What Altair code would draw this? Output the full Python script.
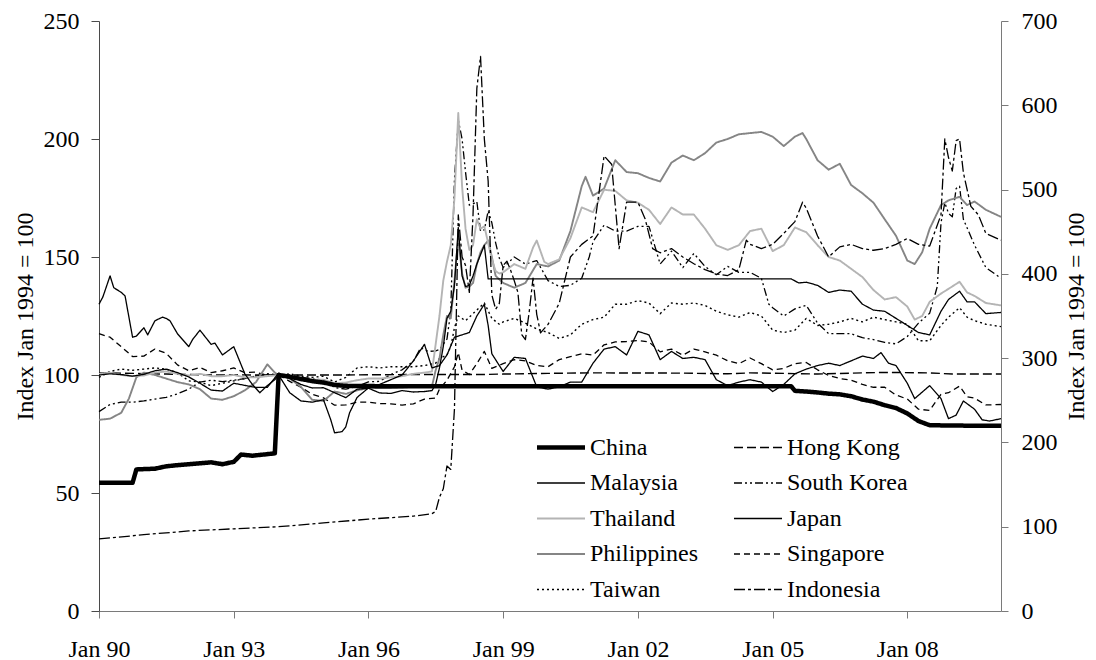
import altair as alt
import pandas as pd

FONT = "'Liberation Serif', 'Times New Roman', Times, 'DejaVu Serif', serif"

# legend / series order (the 2-column legend fills column by column)
SERIES = ["China", "Malaysia", "Thailand", "Philippines", "Taiwan",
          "Hong Kong", "South Korea", "Japan", "Singapore", "Indonesia"]
COLORS = ["#000000", "#000000", "#b4b4b4", "#858585", "#000000",
          "#000000", "#000000", "#000000", "#000000", "#000000"]
DASHES = [[1, 0], [1, 0], [1, 0], [1, 0], [2, 3],
          [9, 4], [8, 3, 2, 3, 2, 3], [1, 0], [6, 4], [11, 3, 3, 3]]
WIDTHS = [4.5, 1.3, 1.9, 1.9, 1.4, 1.4, 1.3, 1.3, 1.3, 1.3]

X_TICKS = [1990, 1993, 1996, 1999, 2002, 2005, 2008]
Y_LEFT_TICKS = [0, 50, 100, 150, 200, 250]
Y_RIGHT_TICKS = [0, 100, 200, 300, 400, 500, 600, 700]

CHINA = [("1990-01", 54.3), ("1990-10", 54.3), ("1990-11", 60.0), ("1991-04", 60.3), ("1991-07", 61.3),
         ("1991-10", 61.8), ("1992-01", 62.2), ("1992-04", 62.6), ("1992-07", 63.0), ("1992-10", 62.2),
         ("1993-01", 63.2), ("1993-03", 66.3), ("1993-06", 65.8), ("1993-09", 66.3), ("1993-12", 66.8),
         ("1994-01", 100.0), ("1994-04", 99.3), ("1994-07", 98.3), ("1994-10", 97.4), ("1995-01", 96.8),
         ("1995-04", 95.8), ("1995-07", 95.4), ("1996-01", 95.3), ("1997-01", 95.2), ("2000-01", 95.2),
         ("2005-06", 95.2), ("2005-07", 93.3), ("2005-10", 93.0), ("2006-01", 92.6), ("2006-04", 92.1),
         ("2006-07", 91.8), ("2006-10", 91.0), ("2007-01", 89.6), ("2007-04", 88.7), ("2007-07", 87.2),
         ("2007-10", 86.0), ("2008-01", 83.7), ("2008-04", 80.5), ("2008-07", 78.7), ("2009-01", 78.6),
         ("2009-07", 78.5), ("2010-02", 78.5)]

HONG_KONG = [("1990-01", 100.9), ("1990-07", 100.8), ("1991-01", 100.6), ("1991-07", 100.4), ("1992-01", 100.2),
             ("1992-07", 100.0), ("1993-01", 100.1), ("1993-07", 100.0), ("1994-01", 100.0), ("1995-07", 100.0),
             ("1996-01", 100.1), ("1997-01", 100.2), ("1998-07", 100.2), ("1999-01", 100.4), ("2000-01", 100.7),
             ("2001-01", 100.9), ("2003-01", 100.8), ("2004-01", 100.5), ("2004-07", 100.9), ("2005-07", 100.6),
             ("2006-01", 100.4), ("2007-01", 100.9), ("2007-07", 101.1), ("2008-07", 100.9), ("2009-01", 100.4),
             ("2010-02", 100.4)]

MALAYSIA = [("1990-01", 100.0), ("1990-04", 100.5), ("1990-07", 100.2), ("1990-10", 99.5), ("1991-01", 100.3),
            ("1991-04", 101.8), ("1991-07", 102.5), ("1991-10", 101.0), ("1992-01", 99.2), ("1992-04", 96.5),
            ("1992-07", 93.6), ("1992-10", 93.2), ("1993-01", 96.5), ("1993-04", 95.6), ("1993-07", 94.7),
            ("1993-10", 94.8), ("1994-01", 100.8), ("1994-04", 98.5), ("1994-07", 96.0), ("1994-10", 94.5),
            ("1995-01", 94.6), ("1995-04", 92.5), ("1995-07", 90.4), ("1995-10", 94.0), ("1996-01", 94.4),
            ("1996-04", 92.4), ("1996-07", 92.2), ("1996-10", 93.4), ("1997-01", 92.8), ("1997-04", 93.0),
            ("1997-06", 93.4), ("1997-07", 96.0), ("1997-08", 103.0), ("1997-09", 112.0), ("1997-10", 124.0),
            ("1997-11", 127.0), ("1997-12", 138.0), ("1998-01", 162.5), ("1998-02", 142.0), ("1998-03", 137.5),
            ("1998-04", 138.0), ("1998-05", 142.0), ("1998-06", 147.0), ("1998-07", 151.0), ("1998-08", 155.0),
            ("1998-09", 140.7), ("2005-06", 140.7), ("2005-08", 139.0), ("2005-10", 139.3), ("2006-01", 138.0),
            ("2006-04", 135.0), ("2006-07", 136.0), ("2006-10", 135.5), ("2007-01", 130.0), ("2007-04", 127.5),
            ("2007-07", 127.0), ("2007-10", 124.0), ("2008-01", 121.0), ("2008-04", 118.0), ("2008-07", 117.0),
            ("2008-10", 127.0), ("2008-12", 132.0), ("2009-03", 135.5), ("2009-05", 131.0), ("2009-07", 131.0),
            ("2009-10", 126.0), ("2010-02", 126.5)]

SOUTH_KOREA = [("1990-01", 84.5), ("1990-04", 87.5), ("1990-07", 88.5), ("1990-10", 88.5), ("1991-01", 89.0),
               ("1991-04", 89.8), ("1991-07", 90.5), ("1991-10", 92.0), ("1992-01", 94.0), ("1992-04", 97.0),
               ("1992-07", 97.8), ("1992-10", 97.2), ("1993-01", 97.8), ("1993-04", 98.5), ("1993-07", 99.6),
               ("1993-10", 100.2), ("1994-01", 100.0), ("1994-04", 99.6), ("1994-07", 99.0), ("1994-10", 98.4),
               ("1995-01", 97.8), ("1995-04", 94.7), ("1995-07", 94.0), ("1995-10", 95.2), ("1996-01", 97.1),
               ("1996-04", 97.3), ("1996-07", 100.2), ("1996-10", 102.2), ("1997-01", 105.8), ("1997-03", 111.5),
               ("1997-05", 110.0), ("1997-07", 110.2), ("1997-08", 110.8), ("1997-09", 113.0), ("1997-10", 115.2),
               ("1997-11", 127.0), ("1997-12", 183.0), ("1998-01", 208.0), ("1998-02", 200.0), ("1998-03", 186.0),
               ("1998-04", 172.0), ("1998-05", 172.5), ("1998-06", 173.5), ("1998-07", 161.0), ("1998-08", 161.5),
               ("1998-09", 169.5), ("1998-10", 164.5), ("1998-11", 156.0), ("1998-12", 149.5), ("1999-01", 145.5),
               ("1999-04", 150.0), ("1999-07", 147.0), ("1999-10", 148.5), ("2000-01", 140.0), ("2000-04", 137.5),
               ("2000-07", 138.0), ("2000-10", 141.0), ("2000-12", 150.0), ("2001-01", 156.5), ("2001-04", 163.5),
               ("2001-07", 161.0), ("2001-10", 161.0), ("2002-01", 163.0), ("2002-04", 163.0), ("2002-07", 147.0),
               ("2002-10", 152.5), ("2003-01", 145.5), ("2003-04", 151.5), ("2003-07", 146.0), ("2003-10", 142.5),
               ("2004-01", 146.0), ("2004-04", 143.5), ("2004-07", 143.5), ("2004-10", 141.0), ("2004-12", 130.0),
               ("2005-01", 128.5), ("2005-04", 125.0), ("2005-07", 128.0), ("2005-10", 129.5), ("2006-01", 122.0),
               ("2006-04", 117.5), ("2006-07", 117.5), ("2006-10", 117.5), ("2007-01", 115.8), ("2007-04", 115.0),
               ("2007-07", 113.8), ("2007-10", 113.2), ("2008-01", 116.3), ("2008-04", 122.0), ("2008-07", 126.2),
               ("2008-09", 137.5), ("2008-10", 164.5), ("2008-11", 173.0), ("2008-12", 168.5), ("2009-01", 167.0),
               ("2009-02", 179.0), ("2009-03", 180.0), ("2009-04", 166.0), ("2009-07", 155.0), ("2009-10", 145.5),
               ("2010-02", 141.0)]

THAILAND = [("1990-01", 100.5), ("1990-04", 101.0), ("1990-07", 100.0), ("1990-10", 99.5), ("1991-01", 99.8),
            ("1991-04", 101.0), ("1991-07", 101.5), ("1991-10", 100.5), ("1992-01", 99.8), ("1992-04", 100.5),
            ("1992-07", 99.5), ("1992-10", 99.5), ("1993-01", 100.0), ("1993-04", 99.0), ("1993-07", 99.0),
            ("1993-10", 99.5), ("1994-01", 100.0), ("1994-04", 98.8), ("1994-07", 98.0), ("1994-10", 98.0),
            ("1995-01", 98.0), ("1995-04", 96.5), ("1995-07", 96.8), ("1995-10", 97.8), ("1996-01", 98.5),
            ("1996-04", 98.5), ("1996-07", 99.0), ("1996-10", 99.5), ("1997-01", 100.5), ("1997-04", 101.0),
            ("1997-06", 101.5), ("1997-07", 113.0), ("1997-08", 125.0), ("1997-09", 140.0), ("1997-10", 148.0),
            ("1997-11", 155.0), ("1997-12", 175.0), ("1998-01", 211.0), ("1998-02", 180.0), ("1998-03", 162.0),
            ("1998-04", 153.0), ("1998-05", 155.0), ("1998-06", 166.0), ("1998-07", 162.0), ("1998-08", 163.0),
            ("1998-09", 156.0), ("1998-10", 149.0), ("1998-11", 144.0), ("1998-12", 143.0), ("1999-01", 143.5),
            ("1999-04", 147.0), ("1999-07", 145.0), ("1999-09", 154.0), ("1999-10", 157.0), ("1999-12", 148.0),
            ("2000-01", 147.0), ("2000-04", 149.0), ("2000-07", 158.0), ("2000-10", 171.0), ("2001-01", 169.0),
            ("2001-04", 178.5), ("2001-07", 178.0), ("2001-10", 174.0), ("2002-01", 173.0), ("2002-04", 170.0),
            ("2002-07", 164.0), ("2002-10", 171.0), ("2003-01", 168.0), ("2003-04", 168.0), ("2003-07", 162.0),
            ("2003-10", 155.0), ("2004-01", 153.0), ("2004-04", 155.0), ("2004-07", 161.0), ("2004-10", 162.0),
            ("2005-01", 152.5), ("2005-04", 155.0), ("2005-07", 162.5), ("2005-10", 160.5), ("2006-01", 155.0),
            ("2006-04", 150.0), ("2006-07", 148.5), ("2006-10", 145.0), ("2007-01", 141.5), ("2007-04", 136.0),
            ("2007-07", 132.0), ("2007-10", 133.0), ("2008-01", 129.0), ("2008-03", 123.5), ("2008-05", 125.0),
            ("2008-07", 131.0), ("2008-10", 134.5), ("2008-12", 136.5), ("2009-03", 139.5), ("2009-05", 135.0),
            ("2009-07", 133.5), ("2009-10", 130.5), ("2010-02", 129.5)]

JAPAN = [("1990-01", 130.0), ("1990-02", 133.0), ("1990-04", 142.0), ("1990-05", 137.0), ("1990-07", 135.0),
         ("1990-08", 133.5), ("1990-10", 116.0), ("1990-11", 116.5), ("1991-01", 120.0), ("1991-02", 117.0),
         ("1991-04", 123.0), ("1991-06", 124.5), ("1991-07", 124.0), ("1991-08", 123.0), ("1991-10", 117.5),
         ("1992-01", 112.0), ("1992-02", 115.0), ("1992-04", 119.0), ("1992-05", 117.0), ("1992-07", 113.0),
         ("1992-08", 113.5), ("1992-10", 108.5), ("1993-01", 112.0), ("1993-04", 100.5), ("1993-06", 96.0),
         ("1993-08", 92.5), ("1993-10", 95.5), ("1993-12", 98.0), ("1994-01", 100.0), ("1994-04", 92.5),
         ("1994-07", 89.0), ("1994-10", 88.5), ("1995-01", 89.5), ("1995-03", 81.0), ("1995-04", 75.5),
         ("1995-06", 76.0), ("1995-07", 78.0), ("1995-08", 84.0), ("1995-10", 90.5), ("1996-01", 94.5),
         ("1996-04", 96.0), ("1996-07", 98.0), ("1996-10", 100.0), ("1997-01", 106.0), ("1997-04", 113.0),
         ("1997-06", 103.0), ("1997-08", 104.0), ("1997-10", 108.5), ("1997-12", 116.0), ("1998-01", 116.5),
         ("1998-04", 118.0), ("1998-06", 125.0), ("1998-08", 130.0), ("1998-09", 121.0), ("1998-10", 109.0),
         ("1998-12", 104.0), ("1999-01", 101.5), ("1999-04", 107.5), ("1999-07", 107.0), ("1999-10", 95.0),
         ("2000-01", 94.0), ("2000-04", 95.0), ("2000-07", 97.0), ("2000-10", 97.0), ("2001-01", 105.0),
         ("2001-04", 111.0), ("2001-07", 112.0), ("2001-10", 108.5), ("2002-01", 118.5), ("2002-04", 117.0),
         ("2002-07", 106.5), ("2002-10", 110.0), ("2003-01", 107.0), ("2003-04", 107.5), ("2003-07", 106.5),
         ("2003-10", 98.0), ("2004-01", 95.5), ("2004-04", 97.0), ("2004-07", 98.0), ("2004-10", 97.0),
         ("2005-01", 93.0), ("2005-04", 96.0), ("2005-07", 100.5), ("2005-10", 102.5), ("2006-01", 104.0),
         ("2006-04", 105.0), ("2006-07", 104.0), ("2006-10", 106.0), ("2007-01", 108.0), ("2007-04", 107.0),
         ("2007-06", 109.5), ("2007-08", 105.0), ("2007-10", 104.0), ("2008-01", 96.5), ("2008-03", 90.0),
         ("2008-07", 95.5), ("2008-10", 90.0), ("2008-12", 81.5), ("2009-02", 83.0), ("2009-04", 89.0),
         ("2009-07", 85.5), ("2009-09", 81.0), ("2009-11", 80.5), ("2010-02", 81.5)]

PHILIPPINES = [("1990-01", 81.0), ("1990-04", 81.5), ("1990-07", 84.0), ("1990-09", 90.0), ("1990-11", 99.0),
               ("1991-01", 101.0), ("1991-04", 100.0), ("1991-07", 98.5), ("1991-10", 97.0), ("1992-01", 96.0),
               ("1992-04", 94.0), ("1992-07", 90.0), ("1992-10", 89.5), ("1993-01", 91.0), ("1993-04", 93.5),
               ("1993-07", 97.0), ("1993-10", 104.5), ("1993-12", 101.0), ("1994-01", 100.0), ("1994-04", 98.5),
               ("1994-07", 95.0), ("1994-10", 89.5), ("1995-01", 89.0), ("1995-04", 93.0), ("1995-07", 92.0),
               ("1995-10", 93.5), ("1996-01", 94.5), ("1996-07", 94.5), ("1996-10", 94.7), ("1997-01", 95.0),
               ("1997-06", 95.2), ("1997-07", 102.0), ("1997-08", 107.0), ("1997-09", 117.0), ("1997-10", 125.0),
               ("1997-11", 124.0), ("1997-12", 140.0), ("1998-01", 158.0), ("1998-02", 143.0), ("1998-03", 137.0),
               ("1998-04", 137.5), ("1998-05", 139.0), ("1998-06", 147.0), ("1998-07", 152.0), ("1998-08", 155.0),
               ("1998-09", 157.0), ("1998-10", 150.0), ("1998-11", 142.0), ("1998-12", 140.5), ("1999-01", 139.0),
               ("1999-04", 137.0), ("1999-07", 139.0), ("1999-10", 147.0), ("2000-01", 146.0), ("2000-04", 148.5),
               ("2000-07", 161.0), ("2000-10", 180.0), ("2000-11", 184.0), ("2001-01", 176.0), ("2001-04", 179.0),
               ("2001-07", 191.0), ("2001-10", 186.0), ("2002-01", 185.5), ("2002-04", 183.5), ("2002-07", 182.0),
               ("2002-10", 190.0), ("2003-01", 193.0), ("2003-04", 191.0), ("2003-07", 194.0), ("2003-10", 198.5),
               ("2004-01", 200.0), ("2004-04", 202.0), ("2004-07", 202.5), ("2004-10", 203.0), ("2005-01", 201.0),
               ("2005-04", 197.0), ("2005-07", 201.0), ("2005-09", 202.5), ("2005-10", 200.0), ("2006-01", 191.0),
               ("2006-04", 187.0), ("2006-07", 189.5), ("2006-10", 180.5), ("2007-01", 177.0), ("2007-04", 173.0),
               ("2007-07", 166.0), ("2007-10", 159.0), ("2008-01", 148.5), ("2008-03", 147.0), ("2008-05", 152.0),
               ("2008-07", 162.0), ("2008-10", 172.0), ("2008-12", 174.0), ("2009-03", 175.5), ("2009-05", 172.0),
               ("2009-07", 173.5), ("2009-10", 170.0), ("2010-02", 167.0)]

SINGAPORE = [("1990-01", 117.5), ("1990-04", 116.0), ("1990-07", 112.0), ("1990-10", 107.8), ("1991-01", 108.0),
             ("1991-04", 111.0), ("1991-07", 109.2), ("1991-10", 104.3), ("1992-01", 101.8), ("1992-04", 103.2),
             ("1992-07", 101.0), ("1992-10", 101.8), ("1993-01", 103.0), ("1993-04", 101.0), ("1993-07", 101.2),
             ("1993-10", 99.8), ("1994-01", 100.0), ("1994-04", 97.3), ("1994-07", 94.8), ("1994-10", 91.8),
             ("1995-01", 90.3), ("1995-04", 87.2), ("1995-07", 87.3), ("1995-10", 88.5), ("1996-01", 88.5),
             ("1996-04", 87.9), ("1996-07", 87.8), ("1996-10", 87.2), ("1997-01", 87.8), ("1997-04", 89.8),
             ("1997-07", 90.2), ("1997-08", 94.0), ("1997-10", 97.8), ("1997-12", 103.5), ("1998-01", 109.5),
             ("1998-02", 102.0), ("1998-04", 100.2), ("1998-06", 104.8), ("1998-08", 110.0), ("1998-10", 102.8),
             ("1999-01", 104.8), ("1999-04", 106.5), ("1999-07", 106.0), ("1999-10", 104.0), ("2000-01", 103.5),
             ("2000-04", 106.5), ("2000-07", 107.8), ("2000-10", 109.0), ("2001-01", 108.4), ("2001-04", 112.8),
             ("2001-07", 114.0), ("2001-10", 114.2), ("2002-01", 114.6), ("2002-04", 114.0), ("2002-07", 109.8),
             ("2002-10", 111.0), ("2003-01", 108.4), ("2003-04", 111.0), ("2003-07", 109.8), ("2003-10", 108.4),
             ("2004-01", 106.0), ("2004-04", 104.8), ("2004-07", 107.2), ("2004-10", 104.8), ("2005-01", 102.2),
             ("2005-04", 102.8), ("2005-07", 104.8), ("2005-10", 105.3), ("2006-01", 102.2), ("2006-04", 99.8),
             ("2006-07", 98.5), ("2006-10", 97.8), ("2007-01", 96.0), ("2007-04", 94.8), ("2007-07", 94.8),
             ("2007-10", 91.5), ("2008-01", 89.8), ("2008-04", 85.5), ("2008-07", 85.0), ("2008-10", 91.8),
             ("2008-12", 92.5), ("2009-03", 95.3), ("2009-05", 90.8), ("2009-07", 90.2), ("2009-10", 87.3),
             ("2010-02", 87.5)]

TAIWAN = [("1990-01", 99.0), ("1990-04", 101.5), ("1990-07", 102.5), ("1990-10", 102.0), ("1991-01", 102.5),
          ("1991-04", 103.0), ("1991-07", 102.5), ("1991-10", 101.0), ("1992-01", 97.5), ("1992-04", 97.0),
          ("1992-07", 95.5), ("1992-10", 96.5), ("1993-01", 97.5), ("1993-04", 98.5), ("1993-07", 99.5),
          ("1993-10", 100.5), ("1994-01", 100.0), ("1994-04", 100.5), ("1994-07", 99.5), ("1994-10", 99.0),
          ("1995-01", 99.5), ("1995-04", 97.0), ("1995-07", 99.0), ("1995-10", 103.0), ("1996-01", 103.5),
          ("1996-04", 103.0), ("1996-07", 103.5), ("1996-10", 103.5), ("1997-01", 103.5), ("1997-04", 104.0),
          ("1997-07", 105.0), ("1997-08", 107.0), ("1997-10", 108.5), ("1997-11", 112.0), ("1997-12", 120.0),
          ("1998-01", 125.0), ("1998-03", 123.0), ("1998-05", 126.0), ("1998-07", 129.0), ("1998-08", 130.5),
          ("1998-10", 124.0), ("1998-12", 121.5), ("1999-01", 122.5), ("1999-04", 124.0), ("1999-07", 122.0),
          ("1999-10", 119.5), ("2000-01", 118.0), ("2000-04", 115.5), ("2000-07", 117.0), ("2000-10", 121.5),
          ("2001-01", 123.5), ("2001-04", 124.5), ("2001-07", 130.0), ("2001-10", 130.0), ("2002-01", 131.5),
          ("2002-04", 130.5), ("2002-07", 126.0), ("2002-10", 130.5), ("2003-01", 130.0), ("2003-04", 130.5),
          ("2003-07", 129.5), ("2003-10", 127.0), ("2004-01", 125.5), ("2004-04", 124.5), ("2004-07", 126.5),
          ("2004-10", 125.0), ("2005-01", 119.0), ("2005-04", 118.0), ("2005-07", 119.0), ("2005-10", 124.0),
          ("2006-01", 121.0), ("2006-04", 121.5), ("2006-07", 122.5), ("2006-10", 124.0), ("2007-01", 122.5),
          ("2007-04", 124.5), ("2007-07", 123.5), ("2007-10", 122.5), ("2008-01", 121.5), ("2008-04", 114.5),
          ("2008-07", 114.5), ("2008-10", 121.0), ("2008-12", 124.5), ("2009-03", 128.5), ("2009-05", 124.5),
          ("2009-07", 123.0), ("2009-10", 121.5), ("2010-02", 120.5)]

# Indonesia is read against the right-hand axis
INDONESIA = [("1990-01", 85.5), ("1991-01", 90.5), ("1992-01", 95.0), ("1993-01", 97.5), ("1994-01", 100.0),
             ("1995-01", 104.5), ("1996-01", 109.0), ("1997-01", 112.5), ("1997-06", 115.5), ("1997-07", 118.0),
             ("1997-08", 135.0), ("1997-09", 145.0), ("1997-10", 172.0), ("1997-11", 168.0), ("1997-12", 240.0),
             ("1998-01", 470.0), ("1998-02", 420.0), ("1998-03", 410.0), ("1998-04", 378.0), ("1998-05", 470.0),
             ("1998-06", 620.0), ("1998-07", 658.0), ("1998-08", 560.0), ("1998-09", 510.0), ("1998-10", 375.0),
             ("1998-11", 358.0), ("1998-12", 365.0), ("1999-01", 410.0), ("1999-02", 415.0), ("1999-03", 405.0),
             ("1999-04", 392.0), ("1999-05", 378.0), ("1999-06", 328.0), ("1999-07", 322.0), ("1999-08", 355.0),
             ("1999-09", 395.0), ("1999-10", 352.0), ("1999-11", 330.0), ("1999-12", 335.0), ("2000-01", 340.0),
             ("2000-04", 365.0), ("2000-07", 420.0), ("2000-10", 435.0), ("2001-01", 445.0), ("2001-04", 540.0),
             ("2001-06", 530.0), ("2001-08", 430.0), ("2001-10", 485.0), ("2002-01", 485.0), ("2002-03", 465.0),
             ("2002-05", 430.0), ("2002-07", 425.0), ("2002-10", 430.0), ("2003-01", 420.0), ("2003-04", 412.0),
             ("2003-07", 405.0), ("2003-10", 400.0), ("2004-01", 398.0), ("2004-04", 405.0), ("2004-06", 440.0),
             ("2004-07", 435.0), ("2004-10", 430.0), ("2005-01", 435.0), ("2005-04", 448.0), ("2005-07", 462.0),
             ("2005-09", 485.0), ("2005-10", 478.0), ("2006-01", 445.0), ("2006-04", 420.0), ("2006-07", 432.0),
             ("2006-10", 435.0), ("2007-01", 430.0), ("2007-04", 428.0), ("2007-07", 430.0), ("2007-10", 435.0),
             ("2008-01", 442.0), ("2008-04", 435.0), ("2008-07", 433.0), ("2008-10", 470.0), ("2008-11", 560.0),
             ("2008-12", 538.0), ("2009-01", 522.0), ("2009-02", 558.0), ("2009-03", 560.0), ("2009-04", 520.0),
             ("2009-06", 480.0), ("2009-08", 470.0), ("2009-10", 448.0), ("2010-02", 440.0)]

LEFT_SERIES = {"Hong Kong": HONG_KONG, "Singapore": SINGAPORE, "Taiwan": TAIWAN,
               "South Korea": SOUTH_KOREA, "Philippines": PHILIPPINES, "Thailand": THAILAND,
               "Japan": JAPAN, "Malaysia": MALAYSIA, "China": CHINA}
RIGHT_SERIES = {"Indonesia": INDONESIA}


def to_rows(series):
    rows = []
    for name, pts in series.items():
        for d, v in pts:
            rows.append({"country": name, "date": d + "-01", "value": v})
    return pd.DataFrame(rows)


left_df = to_rows(LEFT_SERIES)
right_df = to_rows(RIGHT_SERIES)

legend = alt.Legend(
    title=None, orient="none", legendX=438, legendY=414.5, columns=2, direction="vertical",
    symbolType="M-4,0H4", symbolSize=144, symbolOffset=12, labelOffset=17,
    labelFont=FONT, labelFontSize=24, labelColor="black", labelLimit=400,
    rowPadding=11.5, columnPadding=32, padding=0,
)

color = alt.Color("country:N", scale=alt.Scale(domain=SERIES, range=COLORS), legend=legend)
dash = alt.StrokeDash("country:N", scale=alt.Scale(domain=SERIES, range=DASHES), legend=legend)
width = alt.StrokeWidth("country:N", scale=alt.Scale(type="ordinal", domain=SERIES, range=WIDTHS), legend=legend)

x = alt.X(
    "date:T",
    scale=alt.Scale(type="utc",
                    domain=[alt.DateTime(year=1990, month=1, date=1, utc=True),
                            alt.DateTime(year=2010, month=2, date=1, utc=True)]),
    axis=alt.Axis(
        title=None,
        values=[alt.DateTime(year=y, month=1, date=1, utc=True) for y in X_TICKS],
        labelExpr="utcFormat(datum.value, '%b %y')",
        tickSize=7, labelPadding=19, labelFlush=False, labelOverlap=False,
        domainColor="#7a7a7a", tickColor="#7a7a7a",
    ),
)

y_left = alt.Y(
    "value:Q",
    scale=alt.Scale(domain=[0, 250], nice=False),
    axis=alt.Axis(title="Index Jan 1994 = 100", orient="left", values=Y_LEFT_TICKS,
                  tickSize=8, labelPadding=12, titlePadding=6,
                  domainColor="#4a4a4a", tickColor="#4a4a4a"),
)

y_right = alt.Y(
    "value:Q",
    scale=alt.Scale(domain=[0, 700], nice=False),
    axis=alt.Axis(title="Index Jan 1994 = 100", orient="right", values=Y_RIGHT_TICKS,
                  tickSize=7, labelPadding=13, titlePadding=7,
                  titleAngle=270, titleBaseline="top",
                  domainColor="#7a7a7a", tickColor="#7a7a7a"),
)

left = alt.Chart(left_df).mark_line(strokeJoin="round").encode(
    x=x, y=y_left, color=color, strokeDash=dash, strokeWidth=width)

right = alt.Chart(right_df).mark_line(strokeJoin="round").encode(
    x=x, y=y_right, color=color, strokeDash=dash, strokeWidth=width)

chart = (
    alt.layer(left, right)
    .resolve_scale(y="independent")
    .properties(
        width=902, height=590,
        autosize=alt.AutoSizeParams(type="none"),
        padding={"left": 91, "top": 13, "right": 87, "bottom": 49},
        background="white",
    )
    .configure_axis(
        labelFont=FONT, titleFont=FONT, labelFontSize=24, titleFontSize=24,
        labelColor="black", titleColor="black", titleFontWeight="normal", grid=False,
    )
    .configure_view(stroke=None)
)

chart.save("out.html", embed_options={"renderer": "svg", "actions": False})
